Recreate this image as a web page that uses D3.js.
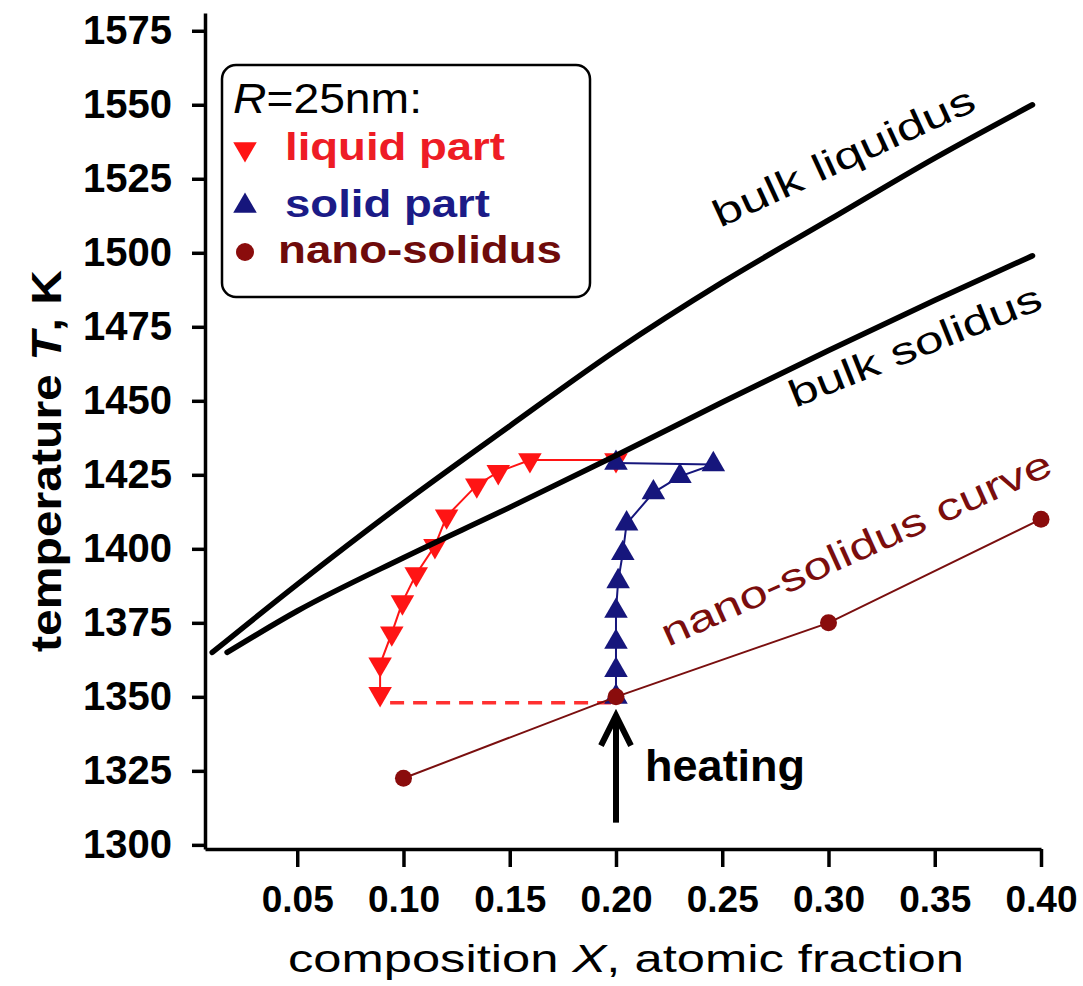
<!DOCTYPE html>
<html>
<head>
<meta charset="utf-8">
<script src="https://cdn.jsdelivr.net/npm/d3@7"></script>
<style>
  body { margin: 0; background: #fff; }
  svg text { font-family: "Liberation Sans", Arial, sans-serif; }
</style>
</head>
<body>
<svg id="chart" width="1083" height="986"></svg>
<script>
// bulk phase diagram
const liquidusX = [0.010, 0.050, 0.100, 0.150, 0.200, 0.250, 0.300, 0.350, 0.396];
const liquidusT = [1365, 1388, 1415.5, 1441.5, 1467, 1490, 1511, 1532, 1550];
const solidusX = [0.017, 0.050, 0.100, 0.150, 0.200, 0.250, 0.300, 0.350, 0.396];
const solidusT = [1365, 1379, 1397, 1414, 1431.5, 1449.5, 1467, 1484, 1499];

// R = 25 nm particle
const liquidX = [0.089, 0.089, 0.0945, 0.0995, 0.106, 0.1148, 0.1203, 0.1345, 0.1446, 0.1595, 0.200];
const liquidT = [1351, 1361, 1371.5, 1382, 1391.5, 1401, 1411, 1421.5, 1426, 1430, 1430];
const solidX = [0.200, 0.200, 0.200, 0.200, 0.201, 0.2032, 0.205, 0.2176, 0.2301, 0.2458, 0.200];
const solidT = [1350, 1359, 1368.5, 1379, 1389, 1398.5, 1408.5, 1419, 1424.5, 1428.5, 1429];
const nanoSolidusX = [0.10, 0.20, 0.30, 0.40];
const nanoSolidusT = [1322.5, 1350, 1375, 1410];

// dashed isotherm from liquid start to the overall composition
const isothermX = [0.089, 0.200];
const isothermT = [1348, 1348];

const xTicks = [0.05, 0.10, 0.15, 0.20, 0.25, 0.30, 0.35, 0.40];
const yTicks = [1300, 1325, 1350, 1375, 1400, 1425, 1450, 1475, 1500, 1525, 1550, 1575];

const zip = (xs, ts) => xs.map((v, i) => ({ x: v, t: ts[i] }));

const svg = d3.select("#chart");

const x = d3.scaleLinear().domain([0.0066, 0.40]).range([205, 1041]);
const y = d3.scaleLinear().domain([1298.6, 1581]).range([849, 13]);

const RED = "#ff1414";
const BLUE = "#16167c";
const DARKRED = "#8a0c0c";

// axes
const xAxis = svg.append("g")
  .attr("transform", `translate(0,${y(1298.6)})`)
  .call(d3.axisBottom(x).tickValues(xTicks).tickFormat(d3.format(".2f"))
    .tickSize(18).tickSizeOuter(0));
xAxis.selectAll("text")
  .attr("y", 63).attr("dy", 0)
  .style("font-size", "37px").style("font-weight", "bold").attr("fill", "#000");

const yAxis = svg.append("g")
  .attr("transform", `translate(${x(0.0066)},0)`)
  .call(d3.axisLeft(y).tickValues(yTicks).tickFormat(d3.format("d"))
    .tickSize(13).tickPadding(20).tickSizeOuter(0));
yAxis.selectAll("text")
  .style("font-size", "40px").style("font-weight", "bold").attr("fill", "#000");

svg.selectAll(".domain, .tick line")
  .attr("stroke", "#000").attr("stroke-width", 3.5);

// axis titles
const yTitle = svg.append("text")
  .attr("transform", "translate(61,461) rotate(-90)")
  .attr("text-anchor", "middle")
  .attr("textLength", 382).attr("lengthAdjust", "spacingAndGlyphs")
  .style("font-size", "42px").style("font-weight", "bold");
yTitle.append("tspan").text("temperature ");
yTitle.append("tspan").style("font-style", "italic").text("T");
yTitle.append("tspan").text(", K");

const xTitle = svg.append("text")
  .attr("transform", "translate(626,972)")
  .attr("text-anchor", "middle")
  .attr("textLength", 676).attr("lengthAdjust", "spacingAndGlyphs")
  .style("font-size", "38px");
xTitle.append("tspan").text("composition ");
xTitle.append("tspan").style("font-style", "italic").text("X");
xTitle.append("tspan").text(", atomic fraction");

const line = d3.line().x(d => x(d.x)).y(d => y(d.t));
const smooth = d3.line().x(d => x(d.x)).y(d => y(d.t)).curve(d3.curveMonotoneX);

// dashed isotherm
svg.append("path")
  .datum(zip(isothermX, isothermT))
  .attr("d", line)
  .attr("fill", "none").attr("stroke", "#ff3030").attr("stroke-width", 3.5)
  .attr("stroke-dasharray", "14,9").attr("stroke-dashoffset", -10);

// liquid part
svg.append("path")
  .datum(zip(liquidX, liquidT))
  .attr("d", line)
  .attr("fill", "none").attr("stroke", RED).attr("stroke-width", 2);
const triSym = d3.symbol().type(d3.symbolTriangle).size(240);
svg.append("g").selectAll("path")
  .data(zip(liquidX, liquidT))
  .join("path")
  .attr("d", triSym)
  .attr("transform", d => `translate(${x(d.x)},${y(d.t)}) rotate(180)`)
  .attr("fill", RED);

// solid part
svg.append("path")
  .datum(zip(solidX, solidT))
  .attr("d", line)
  .attr("fill", "none").attr("stroke", BLUE).attr("stroke-width", 2);
svg.append("g").selectAll("path")
  .data(zip(solidX, solidT))
  .join("path")
  .attr("d", triSym)
  .attr("transform", d => `translate(${x(d.x)},${y(d.t)})`)
  .attr("fill", BLUE);

// nano-solidus
svg.append("path")
  .datum(zip(nanoSolidusX, nanoSolidusT))
  .attr("d", line)
  .attr("fill", "none").attr("stroke", "#7a0f0f").attr("stroke-width", 2);
svg.append("g").selectAll("circle")
  .data(zip(nanoSolidusX, nanoSolidusT))
  .join("circle")
  .attr("cx", d => x(d.x)).attr("cy", d => y(d.t)).attr("r", 8.5)
  .attr("fill", DARKRED);

// bulk liquidus / solidus
[[liquidusX, liquidusT], [solidusX, solidusT]].forEach(([xs, ts]) => {
  svg.append("path")
    .datum(zip(xs, ts))
    .attr("d", smooth)
    .attr("fill", "none").attr("stroke", "#000")
    .attr("stroke-width", 5.5).attr("stroke-linecap", "round");
});

// heating arrow
const ax = x(0.20);
svg.append("line")
  .attr("x1", ax).attr("x2", ax).attr("y1", y(1307.5)).attr("y2", y(1343))
  .attr("stroke", "#000").attr("stroke-width", 6);
svg.append("path")
  .attr("d", `M${ax - 15},${y(1343) + 28}L${ax},${y(1343) - 2}L${ax + 15},${y(1343) + 28}`)
  .attr("fill", "none").attr("stroke", "#000").attr("stroke-width", 6)
  .attr("stroke-linejoin", "miter");

// curve labels
function angled(text, vx, vt, angle, len, size, color, weight) {
  svg.append("text")
    .attr("transform", `translate(${x(vx)},${y(vt)}) rotate(${angle})`)
    .attr("textLength", len).attr("lengthAdjust", "spacingAndGlyphs")
    .style("font-size", size + "px").style("font-weight", weight || "normal")
    .attr("fill", color)
    .text(text);
}
angled("bulk liquidus", 0.2490, 1508.4, -24.7, 284, 38, "#000");
angled("bulk solidus", 0.2842, 1447.6, -21.8, 269, 38, "#000");
angled("nano-solidus curve", 0.2245, 1366.8, -24.2, 424, 38, "#7a0d0d");
angled("heating", 0.2137, 1321.5, 0, 160, 44, "#000", "bold");

// legend
const legend = svg.append("g");
legend.append("rect")
  .attr("x", 222).attr("y", 65).attr("width", 368).attr("height", 232)
  .attr("rx", 14)
  .attr("fill", "#fff").attr("stroke", "#000").attr("stroke-width", 2.5);
const head = legend.append("text")
  .attr("x", 233).attr("y", 113)
  .attr("textLength", 189).attr("lengthAdjust", "spacingAndGlyphs")
  .style("font-size", "42px");
head.append("tspan").style("font-style", "italic").text("R");
head.append("tspan").text("=25nm:");

const legendItems = [
  { label: "liquid part", color: "#ee1c25", mark: RED, sym: "down", y: 160, len: 220 },
  { label: "solid part", color: "#1b1b87", mark: BLUE, sym: "up", y: 217, len: 205 },
  { label: "nano-solidus", color: "#6e0b0b", mark: DARKRED, sym: "dot", y: 263, len: 284 }
];
legendItems.forEach(it => {
  const cy = it.y - 11;
  if (it.sym === "dot") {
    legend.append("circle").attr("cx", 245).attr("cy", cy).attr("r", 9).attr("fill", it.mark);
  } else {
    legend.append("path")
      .attr("d", triSym)
      .attr("transform", `translate(245,${cy}) rotate(${it.sym === "down" ? 180 : 0})`)
      .attr("fill", it.mark);
  }
  legend.append("text")
    .attr("x", it.sym === "dot" ? 278 : 285).attr("y", it.y)
    .attr("textLength", it.len).attr("lengthAdjust", "spacingAndGlyphs")
    .style("font-size", "38px").style("font-weight", "bold")
    .attr("fill", it.color)
    .text(it.label);
});
</script>
</body>
</html>
